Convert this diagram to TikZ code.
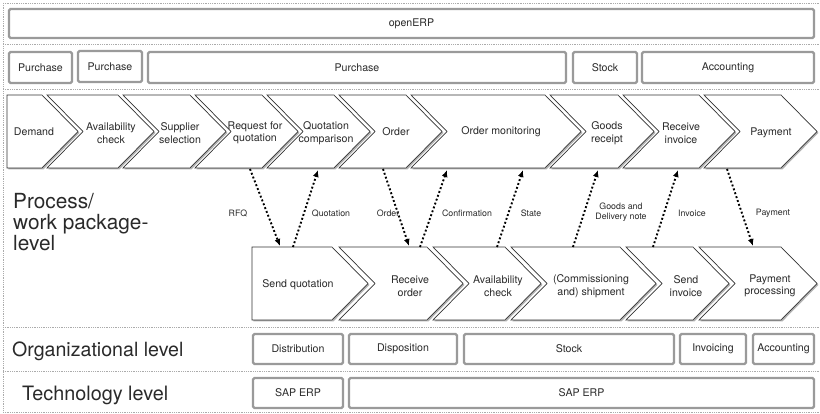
\documentclass[tikz,border=0pt]{standalone}
\usepackage{fontspec}
\setmainfont{TeX Gyre Heros}
\usetikzlibrary{shadows,arrows.meta}
\definecolor{boxgray}{HTML}{9A9A9A}
\definecolor{sepgray}{HTML}{ABABAB}
\definecolor{txt}{HTML}{2A2A2A}
\tikzset{
 box/.style={draw=boxgray, line width=2.2pt, rounded corners=1.5pt, fill=white, text=txt,
   font=\fontsize{10.6}{12}\selectfont, inner sep=0pt},
 sepline/.style={draw=sepgray, line width=0.9pt, dash pattern=on 0.9pt off 0.9pt},
 chev/.style={draw=black!80, line width=0.7pt, fill=white,
   drop shadow={shadow xshift=1.4pt, shadow yshift=-1.4pt, fill=black!30, opacity=1}},
 ctext/.style={text=txt, font=\fontsize{10.6}{12.5}\selectfont, align=center, inner sep=0pt},
 flow/.style={line width=1.9pt, dash pattern=on 1.9pt off 2.2pt, -{Latex[length=7pt,width=6pt]}},
 flabel/.style={text=txt, font=\fontsize{8.8}{10}\selectfont, align=center, inner sep=0pt},
 biglabel/.style={text=txt, anchor=west, align=left, inner sep=0pt}
}
% flat-left chevron: L, R, top, bottom
\newcommand\chevF[4]{\draw[chev] (#1,#3) -- (#2,#3) -- ({#2+36},{(#3+#4)/2}) -- (#2,#4) -- (#1,#4) -- cycle;}
% notched chevron: L, R, top, bottom
\newcommand\chevN[4]{\draw[chev] (#1,#3) -- (#2,#3) -- ({#2+36},{(#3+#4)/2}) -- (#2,#4) -- (#1,#4) -- ({#1+36},{(#3+#4)/2}) -- cycle;}
\begin{document}
\begin{tikzpicture}[x=1pt,y=-1pt]
\useasboundingbox (0,0) rectangle (820,414);
\fill[white] (0,0) rectangle (820,414);

% separators
\draw[sepline] (3,3) -- (820,3);
\draw[sepline] (3,44) -- (820,44);
\draw[sepline] (3,89) -- (820,89);
\draw[sepline] (3,327) -- (820,327);
\draw[sepline] (3,371) -- (820,371);
\draw[sepline] (3,412.5) -- (820,412.5);
\draw[sepline] (3,3) -- (3,412.5);

% top boxes
\node[box, minimum width=805, minimum height=29] (erp) at (411.5,23.5) {openERP};
\node[box, minimum width=63, minimum height=31] (pur1) at (40.5,67.5) {Purchase};
\node[box, minimum width=64, minimum height=31] (pur2) at (110,66.5) {Purchase};
\node[box, minimum width=418, minimum height=31] (pur3) at (357,67.5) {Purchase};
\node[box, minimum width=64, minimum height=31] (stk1) at (605,67.5) {Stock};
\node[box, minimum width=172, minimum height=31] (acc1) at (728,67.5) {Accounting};

% top chevrons
\chevF{7}{42}{95}{168}
\chevN{47}{118}{95}{168}
\chevN{123}{190}{95}{168}
\chevN{195}{262}{95}{168}
\chevN{267}{334}{95}{168}
\chevN{339}{406}{95}{168}
\chevN{411}{545}{95}{168}
\chevN{550}{618}{95}{168}
\chevN{623}{699}{95}{168}
\chevN{704}{781}{95}{168}

\node[ctext] (demand) at (34,132) {Demand};
\node[ctext] (avail1) at (111,133) {Availability\\check};
\node[ctext] (suppl) at (180,133) {Supplier\\selection};
\node[ctext] (rfq) at (255,133) {Request for\\quotation};
\node[ctext] (qcomp) at (326,133) {Quotation\\comparison};
\node[ctext] (order) at (396,132) {Order};
\node[ctext] (omon) at (501,132) {Order monitoring};
\node[ctext] (grec) at (607,133) {Goods\\receipt};
\node[ctext] (rinv) at (681,133) {Receive\\invoice};
\node[ctext] (pay) at (771,133) {Payment};

% bottom chevrons
\chevF{252}{332}{247}{320}
\chevN{339}{427}{247}{320}
\chevN{433}{505}{247}{320}
\chevN{511}{620}{247}{320}
\chevN{626}{693}{247}{320}
\chevN{699}{781}{247}{320}

\node[ctext] (sendq) at (298,285) {Send quotation};
\node[ctext] (recvo) at (410,286) {Receive\\order};
\node[ctext] (avail2) at (498,286) {Availability\\check};
\node[ctext] (ship) at (591,286) {(Commissioning\\and) shipment};
\node[ctext] (sinv) at (686,286) {Send\\invoice};
\node[ctext] (payp) at (770,286) {Payment\\processing};

% connector end points on the chevron edges
\coordinate (rfq-b) at (250,169);   \coordinate (sendq-t1) at (280,246);
\coordinate (sendq-t2) at (293,247); \coordinate (qcomp-b) at (318,170);
\coordinate (order-b) at (383,169); \coordinate (recvo-t1) at (409,246);
\coordinate (recvo-t2) at (420,247); \coordinate (omon-b1) at (447,170);
\coordinate (avail2-t) at (497,247); \coordinate (omon-b2) at (523,170);
\coordinate (ship-t) at (573,247);  \coordinate (grec-b) at (598,170);
\coordinate (sinv-t) at (653,247);  \coordinate (rinv-b) at (678,170);
\coordinate (pay-b) at (727,169);   \coordinate (payp-t) at (753,246);

\draw[flow] (rfq-b) -- (sendq-t1);
\draw[flow] (sendq-t2) -- (qcomp-b);
\draw[flow] (order-b) -- (recvo-t1);
\draw[flow] (recvo-t2) -- (omon-b1);
\draw[flow] (avail2-t) -- (omon-b2);
\draw[flow] (ship-t) -- (grec-b);
\draw[flow] (sinv-t) -- (rinv-b);
\draw[flow] (pay-b) -- (payp-t);

\node[flabel] (l1) at (238,213) {RFQ};
\node[flabel] (l2) at (331,213) {Quotation};
\node[flabel] (l3) at (388,213) {Order};
\node[flabel] (l4) at (467,213) {Confirmation};
\node[flabel] (l5) at (531,213) {State};
\node[flabel] (l6) at (621,212) {Goods and\\Delivery note};
\node[flabel] (l7) at (692,213) {Invoice};
\node[flabel] (l8) at (773,213) {Payment};

% level labels
\node[biglabel, font=\fontsize{20.8}{21}\selectfont] (proc) at (13,222) {Process/\\work package-\\level};
\node[biglabel, font=\fontsize{19.6}{21}\selectfont] (orgl) at (12,351) {Organizational level};
\node[biglabel, font=\fontsize{19.8}{21}\selectfont] (techl) at (22,395) {Technology level};

% organizational boxes
\node[box, minimum width=90, minimum height=30] (dist) at (298,349) {Distribution};
\node[box, minimum width=108, minimum height=30] (disp) at (403,349) {Disposition};
\node[box, minimum width=210, minimum height=30] (stk2) at (569,349) {Stock};
\node[box, minimum width=66, minimum height=30] (invc) at (713,349) {Invoicing};
\node[box, minimum width=61, minimum height=30] (acc2) at (783.5,349) {Accounting};

% technology boxes
\node[box, minimum width=90, minimum height=30] (sap1) at (298,393) {SAP ERP};
\node[box, minimum width=465, minimum height=30] (sap2) at (581.5,393) {SAP ERP};
\end{tikzpicture}
\end{document}
